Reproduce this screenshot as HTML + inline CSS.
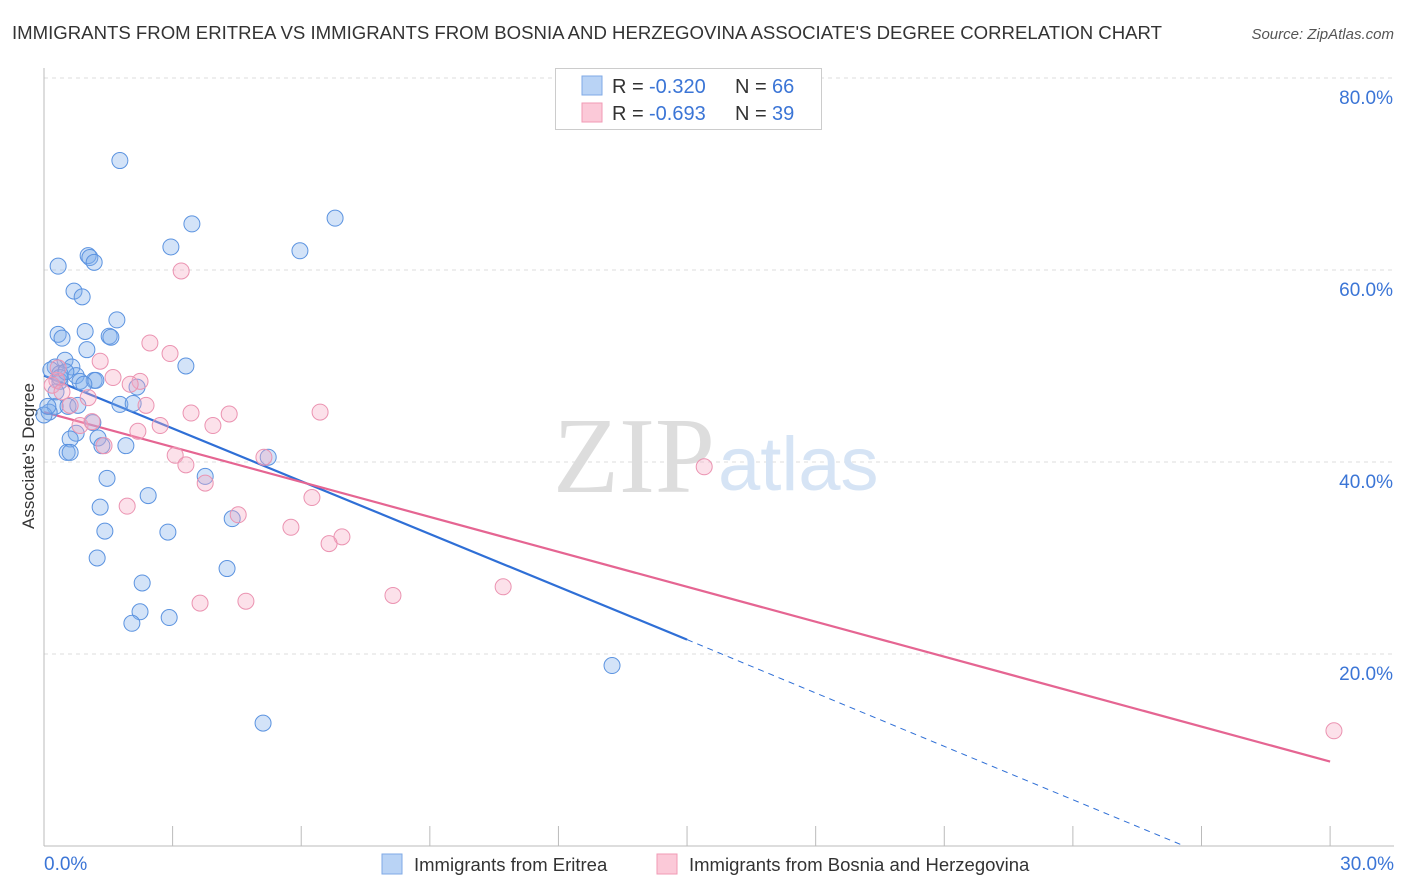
<!DOCTYPE html>
<html><head><meta charset="utf-8"><style>
body{margin:0;background:#fff;font-family:"Liberation Sans",sans-serif;}
svg{display:block}
</style></head><body>
<svg width="1406" height="892" viewBox="0 0 1406 892">
<text x="12" y="39" font-size="18" fill="#333" textLength="1150" lengthAdjust="spacingAndGlyphs">IMMIGRANTS FROM ERITREA VS IMMIGRANTS FROM BOSNIA AND HERZEGOVINA ASSOCIATE'S DEGREE CORRELATION CHART</text>
<text x="1394" y="39" font-size="15" fill="#555" text-anchor="end" font-style="italic">Source: ZipAtlas.com</text>
<g id="grid"></g>
<line x1="44" y1="68" x2="44" y2="846" stroke="#bbb"/>
<line x1="44" y1="846" x2="1394" y2="846" stroke="#bbb"/>
<text x="34" y="456" font-size="17" fill="#333" text-anchor="middle" transform="rotate(-90 34 456)">Associate's Degree</text>
<text x="715" y="492" font-size="108" fill="#ddd" text-anchor="end" font-family="Liberation Serif,serif">ZIP</text>
<text x="718" y="490" font-size="76" fill="#d6e4f5">atlas</text>
<g id="ticks"></g>
<g id="lines"></g>
<g id="pts"></g>
<g>
<rect x="555.5" y="68.5" width="266" height="61" fill="#fff" stroke="#ccc"/>
<rect x="582" y="76" width="20" height="19" fill="#b9d3f5" stroke="#7fa9e6"/>
<rect x="582" y="103" width="20" height="19" fill="#fbc9d8" stroke="#f09ab5"/>
<text x="612" y="93" font-size="20" fill="#333">R =</text><text x="649" y="93" font-size="20" fill="#3b75d6">-0.320</text>
<text x="735" y="93" font-size="20" fill="#333">N =</text><text x="772" y="93" font-size="20" fill="#3b75d6">66</text>
<text x="612" y="120" font-size="20" fill="#333">R =</text><text x="649" y="120" font-size="20" fill="#3b75d6">-0.693</text>
<text x="735" y="120" font-size="20" fill="#333">N =</text><text x="772" y="120" font-size="20" fill="#3b75d6">39</text>
</g>
<g>
<rect x="382" y="854" width="20" height="20" fill="#b9d3f5" stroke="#7fa9e6"/>
<text x="414" y="871" font-size="18.5" fill="#333">Immigrants from Eritrea</text>
<rect x="657" y="854" width="20" height="20" fill="#fbc9d8" stroke="#f09ab5"/>
<text x="689" y="871" font-size="18.5" fill="#333">Immigrants from Bosnia and Herzegovina</text>
</g>
</svg>
<script>
const yTicks=[20,40,60,80];
const xTicks=[0,3,6,9,12,15,18,21,24,27,30];
const bluePx=[[120,161],[192,224],[335,218],[171,247],[300,251],[88,256],[90,258],[94,262],[58,266],[74,291],[82,297],[117,320],[58,334],[85,331],[62,338],[109,336],[111,337],[87,350],[65,360],[186,366],[55,367],[72,367],[51,370],[60,374],[76,376],[94,380],[80,381],[96,380],[60,381],[137,387],[120,404],[133,403],[55,406],[68,406],[78,405],[93,423],[76,433],[70,439],[98,438],[102,446],[126,446],[67,452],[70,452],[205,476],[268,457],[107,478],[148,496],[100,507],[232,519],[105,531],[168,532],[97,558],[227,569],[142,583],[140,612],[132,623],[169,618],[612,666],[263,723],[49,412],[44,415],[48,406],[60,378],[66,372],[84,384],[56,392]];
const pinkPx=[[181,271],[150,343],[170,354],[100,361],[140,381],[113,378],[130,384],[57,380],[52,385],[62,392],[88,398],[146,405],[191,413],[229,414],[320,412],[213,426],[160,426],[80,426],[92,422],[138,431],[175,455],[186,465],[264,457],[205,483],[312,498],[238,515],[127,506],[291,527],[342,537],[329,544],[200,603],[246,601],[393,595],[503,587],[704,467],[1334,731],[104,446],[58,368],[70,405]];
const blueX=bluePx.map(p=>+((p[0]-44)/42.87).toFixed(2)), blueY=bluePx.map(p=>+((846-p[1])/9.6).toFixed(1));
const pinkX=pinkPx.map(p=>+((p[0]-44)/42.87).toFixed(2)), pinkY=pinkPx.map(p=>+((846-p[1])/9.6).toFixed(1));
const blueTrend=[0,49.0,15,21.5,26.6,0];
const pinkTrend=[0,45.2,30,8.8];
const X=v=>44+v*42.87, Y=v=>846-v*9.6;
const NS="http://www.w3.org/2000/svg";
function mk(t,a,p){const e=document.createElementNS(NS,t);for(const k in a)e.setAttribute(k,a[k]);p.appendChild(e);return e;}
const g=document.getElementById('grid'),tk=document.getElementById('ticks');
yTicks.forEach(v=>{const l=mk('line',{x1:44,x2:1394,y1:Y(v),y2:Y(v),stroke:'#ddd','stroke-dasharray':'4,4'},g);


const t=mk('text',{x:1393,y:Y(v)+26,'font-size':19,fill:'#3b75d6','text-anchor':'end'},tk);t.textContent=v.toFixed(1)+'%';

});
xTicks.forEach(v=>{const l=mk('line',{x1:X(v),x2:X(v),y1:826,y2:846,stroke:'#bbb'},tk);

});
[[0,'0.0%','start',44],[30,'30.0%','end',1394]].forEach(a=>{const t=mk('text',{x:a[3],y:870,'font-size':19,fill:'#3b75d6','text-anchor':a[2]},tk);t.textContent=a[1];

});
const L=document.getElementById('lines');
let l1=mk('line',{x1:X(blueTrend[0]),y1:Y(blueTrend[1]),x2:X(blueTrend[2]),y2:Y(blueTrend[3]),stroke:'#2f6fd6','stroke-width':2.2},L);


let l2=mk('line',{x1:X(blueTrend[2]),y1:Y(blueTrend[3]),x2:X(blueTrend[4]),y2:Y(blueTrend[5]),stroke:'#2f6fd6','stroke-width':1,'stroke-dasharray':'6,5'},L);


let l3=mk('line',{x1:X(pinkTrend[0]),y1:Y(pinkTrend[1]),x2:X(pinkTrend[2]),y2:Y(pinkTrend[3]),stroke:'#e56592','stroke-width':2.2},L);


const P=document.getElementById('pts');
blueX.forEach((x,i)=>{const c=mk('circle',{cx:X(x),cy:Y(blueY[i]),r:8,fill:'rgba(130,175,235,0.35)',stroke:'#5b93e0','stroke-width':1},P);

});
pinkX.forEach((x,i)=>{const c=mk('circle',{cx:X(x),cy:Y(pinkY[i]),r:8,fill:'rgba(245,170,195,0.35)',stroke:'#eb93b1','stroke-width':1},P);

});
</script>
</body></html>
